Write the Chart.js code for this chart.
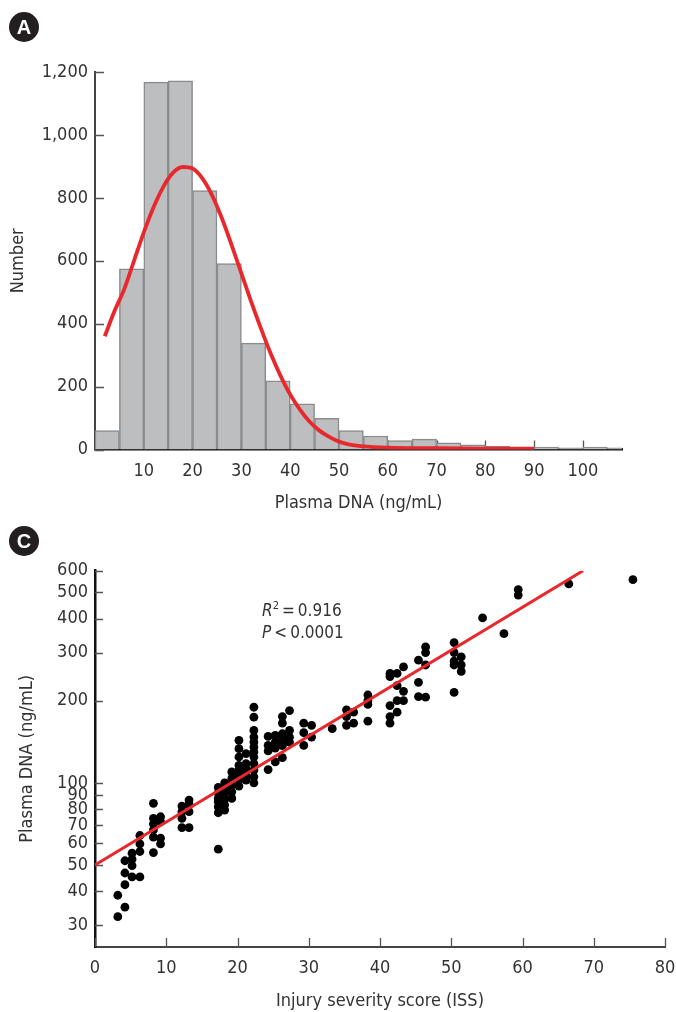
<!DOCTYPE html>
<html>
<head>
<meta charset="utf-8">
<script src="https://cdn.jsdelivr.net/npm/chart.js@4.4.0/dist/chart.umd.min.js"></script>
<style>
  body { margin: 0; background: #fff; width: 676px; height: 1012px; position: relative; overflow: hidden; }
  .wrap { position: absolute; left: 0; width: 676px; }
  .tag { position: absolute; left: 9px; width: 30px; height: 30px; border-radius: 50%; background: #231f20;
         color: #fff; font: bold 20px 'Liberation Sans', Arial, sans-serif; text-align: center; line-height: 30px; }
  .note { position: absolute; left: 262px; top: 599px; font-size: 17px; line-height: 22px; color: #333;
          font-family: 'Liberation Sans Narrow', 'DejaVu Sans Condensed', 'Roboto Condensed', Roboto, sans-serif; }
  .note sup { font-size: 11px; vertical-align: 7px; line-height: 0; }
</style>
</head>
<body>
<div class="wrap" style="top:0;height:515px"><canvas id="chartA" width="676" height="515"></canvas></div>
<div class="wrap" style="top:515px;height:497px"><canvas id="chartC" width="676" height="497"></canvas></div>
<div class="tag" style="top:12px">A</div>
<div class="tag" style="top:526px">C</div>
<div class="note"><i>R</i><sup>2</sup>&#8201;=&#8201;0.916<br><i>P</i>&#8201;&lt;&#8201;0.0001</div>

<script>
// panel A: histogram of plasma DNA (bins 5 ng/mL wide, centres)
const binCenters = [2.5, 7.5, 12.5, 17.5, 22.5, 27.5, 32.5, 37.5, 42.5, 47.5, 52.5,
  57.5, 62.5, 67.5, 72.5, 77.5, 82.5, 87.5, 92.5, 97.5, 102.5, 107.5];
const binCounts = [60, 574, 1168, 1172, 823, 591, 338, 218, 145, 99, 60,
  43, 28, 33, 21, 15, 10, 6, 8, 5, 8, 5];
// red fitted curve
const curveX = [2, 4, 6, 8, 10, 12, 14, 16, 18, 20, 22, 24, 26, 28, 30, 32, 34, 36, 38, 40,
  42, 44, 46, 48, 50, 52, 55, 60, 70, 80, 90];
const curveY = [360, 440, 510, 600, 690, 770, 835, 880, 898, 893, 862, 808, 735, 650, 560, 470, 385, 305, 235, 175,
  127, 88, 60, 40, 25, 16, 10, 6, 4, 3, 3];
const xTicksA = [10, 20, 30, 40, 50, 60, 70, 80, 90, 100];
const yTicksA = [0, 200, 400, 600, 800, 1000, 1200];

// panel C: ISS vs plasma DNA
const issX = [
  3.2, 3.2,
  4.2, 4.2, 4.2, 4.2,
  5.2, 5.2, 5.2, 5.2,
  6.3, 6.3, 6.3, 6.3,
  8.2, 8.2, 8.2, 8.2, 8.2, 8.2,
  9.2, 9.2, 9.2, 9.2,
  12.2, 12.2, 12.2, 12.2,
  13.2, 13.2, 13.2, 13.2,
  17.3, 17.3, 17.3, 17.3, 17.3, 17.3, 17.3,
  18.2, 18.2, 18.2, 18.2, 18.2, 18.2,
  19.2, 19.2, 19.2, 19.2, 19.2,
  20.2, 20.2, 20.2, 20.2, 20.2, 20.2, 20.2, 20.2,
  21.2, 21.2, 21.2, 21.2, 21.2,
  22.3, 22.3, 22.3, 22.3, 22.3, 22.3, 22.3, 22.3, 22.3, 22.3, 22.3, 22.3,
  24.3, 24.3, 24.3, 24.3,
  25.3, 25.3, 25.3, 25.3,
  26.3, 26.3, 26.3, 26.3, 26.3, 26.3,
  27.3, 27.3, 27.3, 27.3,
  29.3, 29.3, 29.3,
  30.4, 30.4,
  33.3,
  35.3, 35.3, 35.3,
  36.3, 36.3,
  38.3, 38.3, 38.3, 38.3,
  41.4, 41.4, 41.4, 41.4, 41.4,
  42.4, 42.4, 42.4, 42.4,
  43.3, 43.3, 43.3,
  45.4, 45.4, 45.4,
  46.4, 46.4, 46.4, 46.4,
  50.4, 50.4, 50.4, 50.4, 50.4,
  51.4, 51.4, 51.4,
  54.4, 57.4, 59.4, 59.4, 66.5, 75.5
];
const dnaY = [
  38.7, 32.3,
  51.8, 46.7, 42.3, 35.0,
  55.2, 52.5, 49.7, 45.2,
  64.1, 59.7, 56.0, 45.2,
  84.1, 74.1, 70.7, 67.2, 63.2, 55.5,
  75.1, 72.1, 62.7, 59.7,
  82.2, 78.4, 74.1, 68.5,
  86.5, 83.6, 78.4, 68.5,
  96.2, 91.9, 87.7, 85.2, 81.7, 77.7, 57.1,
  100, 95.4, 91.5, 87.0, 82.9, 79.5,
  109.7, 103.8, 98.1, 92.7, 87.7,
  143.2, 133.5, 124.4, 116.0, 111.3, 106.7, 102.3, 97.3,
  128.0, 117.7, 112.9, 106.7, 102.3,
  189.4, 174.1, 155.7, 147.2, 141.1, 135.3, 129.8, 124.4, 117.7, 111.3, 105.2, 100,
  148, 137.2, 130.9, 111.9,
  149.3, 141, 134, 119.3,
  175, 165.6, 151.4, 144, 137, 123.7,
  184.1, 155.7, 147.2, 141.1,
  165.6, 152.7, 137.2,
  162.5, 147.2,
  158,
  185.3, 175.1, 162.5,
  181.6, 165.6,
  210, 200.2, 193.9, 168.3,
  251.9, 245.3, 192.1, 175.1, 165.6,
  251.9, 227.2, 200.2, 181.6,
  266.3, 216.6, 200.2,
  281.8, 233.7, 207.3,
  315.3, 300.6, 270.6, 206.1,
  327, 300.6, 279.8, 270.6, 214.6,
  290, 270.6, 256.2,
  402.5, 352.5, 511.5, 488.3, 536.7, 556
];
// regression line ends
const fitX = [0, 68.5];
const fitY = [50, 600];
const xTicksC = [0, 10, 20, 30, 40, 50, 60, 70, 80];
const yTicksC = [30, 40, 50, 60, 70, 80, 90, 100, 200, 300, 400, 500, 600];

const FONT = "'Liberation Sans Narrow', 'DejaVu Sans Condensed', 'Roboto Condensed', Roboto, sans-serif";
const TEXT = '#333333';
const RED = '#e8282c';

// short tick marks pointing into the plot, like the original figure
const innerTicks = {
  id: 'innerTicks',
  beforeDatasetsDraw(chart, args, opts) {
    const ctx = chart.ctx;
    const {left, bottom} = chart.chartArea;
    ctx.save();
    ctx.strokeStyle = opts.color;
    ctx.lineWidth = 1.3;
    ctx.beginPath();
    chart.scales.x.ticks.forEach(t => {
      const px = Math.round(chart.scales.x.getPixelForValue(t.value)) + 0.5;
      ctx.moveTo(px, bottom);
      ctx.lineTo(px, bottom - opts.x);
    });
    chart.scales.y.ticks.forEach(t => {
      const py = Math.round(chart.scales.y.getPixelForValue(t.value)) + 0.5;
      ctx.moveTo(left, py);
      ctx.lineTo(left + opts.y, py);
    });
    ctx.stroke();
    ctx.restore();
  }
};

function tickFont() {
  return {family: FONT, size: 18};
}

new Chart(document.getElementById('chartA'), {
  type: 'bar',
  data: {
    datasets: [
      {
        type: 'line',
        data: curveX.map((x, i) => ({x: x, y: curveY[i]})),
        borderColor: RED,
        borderWidth: 3.8,
        pointRadius: 0,
        cubicInterpolationMode: 'monotone',
        fill: false
      },
      {
        type: 'bar',
        data: binCenters.map((x, i) => ({x: x, y: binCounts[i]})),
        backgroundColor: '#bdbec0',
        borderColor: '#8a8b8d',
        borderWidth: 1.5,
        barPercentage: 1,
        categoryPercentage: 1,
        clip: 0
      }
    ]
  },
  options: {
    responsive: false,
    animation: false,
    layout: {padding: {top: 72, right: 54, left: 0, bottom: 0}},
    plugins: {
      legend: {display: false},
      tooltip: {enabled: false},
      innerTicks: {x: 9, y: 9, color: '#555'}
    },
    scales: {
      x: {
        type: 'linear',
        min: 0,
        max: 108,
        offset: false,
        grid: {display: false, drawTicks: false, offset: false},
        border: {display: true, color: '#111', width: 2.5},
        afterBuildTicks: s => { s.ticks = xTicksA.map(v => ({value: v})); },
        afterFit: s => { s.height = 65.5; s.paddingLeft = 0; s.paddingRight = 0; },
        ticks: {font: tickFont(), color: TEXT, padding: 11, maxRotation: 0, autoSkip: false},
        title: {display: true, text: 'Plasma DNA (ng/mL)', font: tickFont(), color: TEXT, padding: {top: 0, bottom: 1}}
      },
      y: {
        min: 0,
        max: 1200,
        grid: {display: false, drawTicks: false},
        border: {display: true, color: '#444', width: 2},
        afterBuildTicks: s => { s.ticks = yTicksA.map(v => ({value: v})); },
        afterFit: s => { s.width = 95; },
        ticks: {font: tickFont(), color: TEXT, padding: 7, callback: v => v.toLocaleString('en-US')},
        title: {display: true, text: 'Number', font: tickFont(), color: TEXT, padding: {top: 8, bottom: 0}}
      }
    }
  },
  plugins: [innerTicks]
});

new Chart(document.getElementById('chartC'), {
  type: 'scatter',
  data: {
    datasets: [
      {
        type: 'line',
        data: fitX.map((x, i) => ({x: x, y: fitY[i]})),
        borderColor: RED,
        borderWidth: 3,
        pointRadius: 0,
        fill: false
      },
      {
        data: issX.map((x, i) => ({x: x, y: dnaY[i]})),
        backgroundColor: '#000',
        borderWidth: 0,
        pointRadius: 4.4
      }
    ]
  },
  options: {
    responsive: false,
    animation: false,
    layout: {padding: {top: 55.7, right: 11, left: 0, bottom: 0}},
    plugins: {
      legend: {display: false},
      tooltip: {enabled: false},
      innerTicks: {x: 9, y: 8, color: '#555'}
    },
    scales: {
      x: {
        type: 'linear',
        min: 0,
        max: 80,
        grid: {display: false, drawTicks: false},
        border: {display: true, color: '#444', width: 2},
        afterBuildTicks: s => { s.ticks = xTicksC.map(v => ({value: v})); },
        afterFit: s => { s.height = 65; s.paddingLeft = 0; s.paddingRight = 0; },
        ticks: {font: tickFont(), color: TEXT, padding: 11, maxRotation: 0, autoSkip: false},
        title: {display: true, text: 'Injury severity score (ISS)', font: tickFont(), color: TEXT, padding: {top: 0, bottom: 0}}
      },
      y: {
        type: 'logarithmic',
        min: 25,
        max: 600,
        grid: {display: false, drawTicks: false},
        border: {display: true, color: '#111', width: 2.5},
        afterBuildTicks: s => { s.ticks = yTicksC.map(v => ({value: v})); },
        afterFit: s => { s.width = 95; },
        ticks: {font: tickFont(), color: TEXT, padding: 7, autoSkip: false, callback: v => String(v)},
        title: {display: true, text: 'Plasma DNA (ng/mL)', font: tickFont(), color: TEXT, padding: {top: 17, bottom: 0}}
      }
    }
  },
  plugins: [innerTicks]
});
</script>
</body>
</html>
